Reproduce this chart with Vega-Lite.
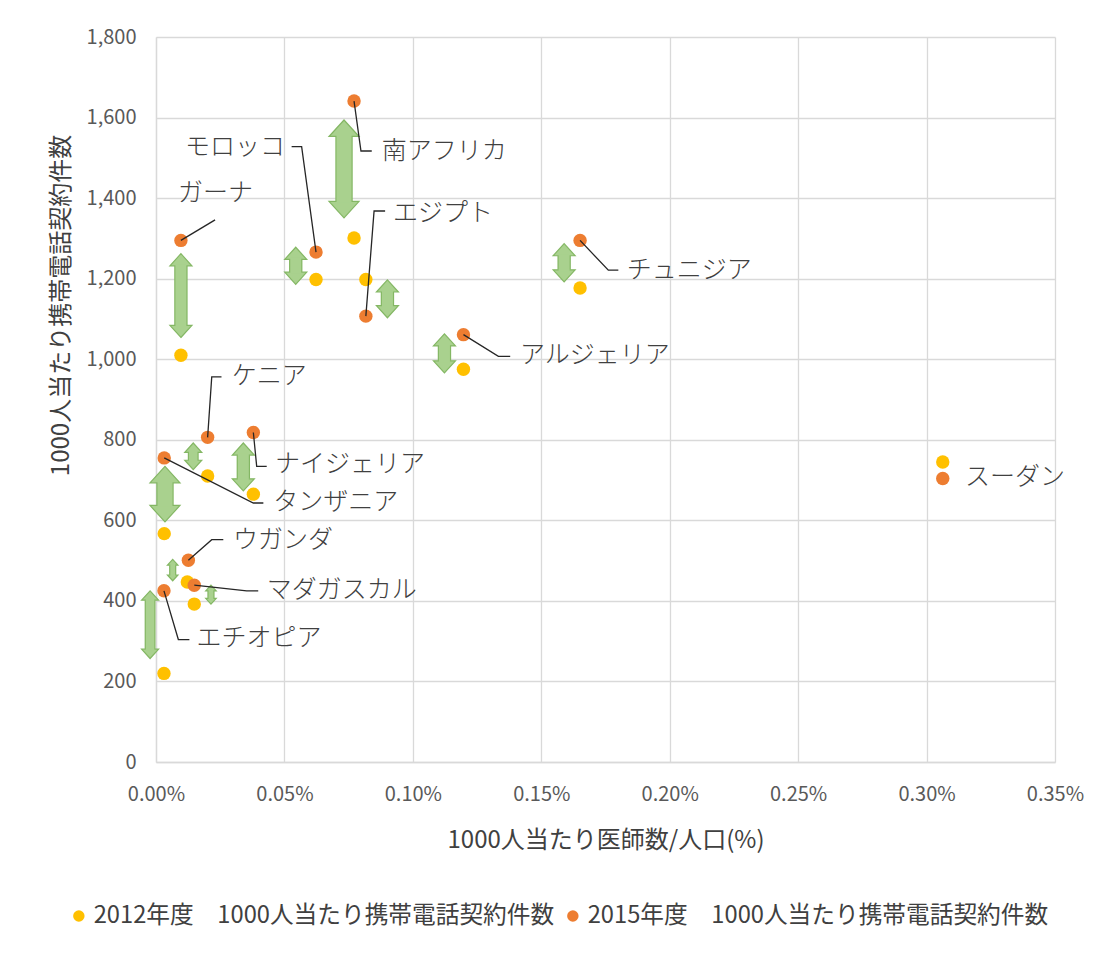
{
  "$schema": "https://vega.github.io/schema/vega-lite/v6.json",
  "width": 899,
  "height": 725,
  "autosize": "none",
  "padding": {"left": 156, "top": 37, "right": 50, "bottom": 191},
  "background": "white",
  "config": {
    "font": "Noto Sans CJK JP",
    "view": {"stroke": null},
    "axis": {
      "grid": true,
      "gridColor": "#d9d9d9",
      "gridWidth": 1.3,
      "domain": true,
      "domainColor": "#d9d9d9",
      "domainWidth": 1.3,
      "ticks": false,
      "labelFlush": false,
      "labelFontSize": 20,
      "labelColor": "#595959",
      "titleFontSize": 24,
      "titleFontWeight": "normal",
      "titleColor": "#404040"
    }
  },
  "datasets": {
    "points": [
      {"country": "ガーナ", "series": "2012年度　1000人当たり携帯電話契約件数", "doctors": 0.0097, "phones": 1010},
      {"country": "モロッコ", "series": "2012年度　1000人当たり携帯電話契約件数", "doctors": 0.0623, "phones": 1198},
      {"country": "南アフリカ", "series": "2012年度　1000人当たり携帯電話契約件数", "doctors": 0.0771, "phones": 1301},
      {"country": "エジプト", "series": "2012年度　1000人当たり携帯電話契約件数", "doctors": 0.0817, "phones": 1198},
      {"country": "アルジェリア", "series": "2012年度　1000人当たり携帯電話契約件数", "doctors": 0.1197, "phones": 975},
      {"country": "チュニジア", "series": "2012年度　1000人当たり携帯電話契約件数", "doctors": 0.1651, "phones": 1177},
      {"country": "スーダン", "series": "2012年度　1000人当たり携帯電話契約件数", "doctors": 0.3063, "phones": 745},
      {"country": "ケニア", "series": "2012年度　1000人当たり携帯電話契約件数", "doctors": 0.0201, "phones": 710},
      {"country": "ナイジェリア", "series": "2012年度　1000人当たり携帯電話契約件数", "doctors": 0.0379, "phones": 665},
      {"country": "タンザニア", "series": "2012年度　1000人当たり携帯電話契約件数", "doctors": 0.0032, "phones": 567},
      {"country": "ウガンダ", "series": "2012年度　1000人当たり携帯電話契約件数", "doctors": 0.0122, "phones": 447},
      {"country": "マダガスカル", "series": "2012年度　1000人当たり携帯電話契約件数", "doctors": 0.0149, "phones": 392},
      {"country": "エチオピア", "series": "2012年度　1000人当たり携帯電話契約件数", "doctors": 0.0031, "phones": 220},
      {"country": "ガーナ", "series": "2015年度　1000人当たり携帯電話契約件数", "doctors": 0.0097, "phones": 1295},
      {"country": "モロッコ", "series": "2015年度　1000人当たり携帯電話契約件数", "doctors": 0.0623, "phones": 1266},
      {"country": "南アフリカ", "series": "2015年度　1000人当たり携帯電話契約件数", "doctors": 0.0771, "phones": 1641},
      {"country": "エジプト", "series": "2015年度　1000人当たり携帯電話契約件数", "doctors": 0.0817, "phones": 1107},
      {"country": "アルジェリア", "series": "2015年度　1000人当たり携帯電話契約件数", "doctors": 0.1197, "phones": 1061},
      {"country": "チュニジア", "series": "2015年度　1000人当たり携帯電話契約件数", "doctors": 0.1651, "phones": 1295},
      {"country": "スーダン", "series": "2015年度　1000人当たり携帯電話契約件数", "doctors": 0.3063, "phones": 704},
      {"country": "ケニア", "series": "2015年度　1000人当たり携帯電話契約件数", "doctors": 0.0201, "phones": 806},
      {"country": "ナイジェリア", "series": "2015年度　1000人当たり携帯電話契約件数", "doctors": 0.0379, "phones": 818},
      {"country": "タンザニア", "series": "2015年度　1000人当たり携帯電話契約件数", "doctors": 0.0032, "phones": 755},
      {"country": "ウガンダ", "series": "2015年度　1000人当たり携帯電話契約件数", "doctors": 0.0126, "phones": 501},
      {"country": "マダガスカル", "series": "2015年度　1000人当たり携帯電話契約件数", "doctors": 0.0149, "phones": 439},
      {"country": "エチオピア", "series": "2015年度　1000人当たり携帯電話契約件数", "doctors": 0.0031, "phones": 425}
    ],
    "arrows": [
      {"country": "ガーナ", "doctors": 0.0097, "top": 1262, "bottom": 1054, "cls": "M"},
      {"country": "モロッコ", "doctors": 0.0544, "top": 1278, "bottom": 1186, "cls": "M"},
      {"country": "南アフリカ", "doctors": 0.0732, "top": 1594, "bottom": 1351, "cls": "L"},
      {"country": "エジプト", "doctors": 0.0901, "top": 1197, "bottom": 1103, "cls": "M"},
      {"country": "アルジェリア", "doctors": 0.1123, "top": 1063, "bottom": 966, "cls": "M"},
      {"country": "チュニジア", "doctors": 0.1589, "top": 1287, "bottom": 1192, "cls": "M"},
      {"country": "ケニア", "doctors": 0.0145, "top": 792, "bottom": 726, "cls": "S"},
      {"country": "ナイジェリア", "doctors": 0.034, "top": 792, "bottom": 673, "cls": "M"},
      {"country": "タンザニア", "doctors": 0.0035, "top": 734, "bottom": 596, "cls": "L"},
      {"country": "ウガンダ", "doctors": 0.0065, "top": 503, "bottom": 450, "cls": "XS"},
      {"country": "マダガスカル", "doctors": 0.0214, "top": 439, "bottom": 392, "cls": "XS"},
      {"country": "エチオピア", "doctors": -0.0023, "top": 425, "bottom": 257, "cls": "S"}
    ],
    "leaders": [
      {"country": "ガーナ", "k": 0, "doctors": 0.0097, "phones": 1295},
      {"country": "ガーナ", "k": 1, "doctors": 0.023, "phones": 1346},
      {"country": "モロッコ", "k": 0, "doctors": 0.0623, "phones": 1266},
      {"country": "モロッコ", "k": 1, "doctors": 0.0567, "phones": 1528},
      {"country": "モロッコ", "k": 2, "doctors": 0.0528, "phones": 1528},
      {"country": "南アフリカ", "k": 0, "doctors": 0.0771, "phones": 1641},
      {"country": "南アフリカ", "k": 1, "doctors": 0.0798, "phones": 1517},
      {"country": "南アフリカ", "k": 2, "doctors": 0.084, "phones": 1517},
      {"country": "エジプト", "k": 0, "doctors": 0.0817, "phones": 1107},
      {"country": "エジプト", "k": 1, "doctors": 0.0849, "phones": 1368},
      {"country": "エジプト", "k": 2, "doctors": 0.0892, "phones": 1368},
      {"country": "アルジェリア", "k": 0, "doctors": 0.1197, "phones": 1061},
      {"country": "アルジェリア", "k": 1, "doctors": 0.1333, "phones": 1007},
      {"country": "アルジェリア", "k": 2, "doctors": 0.1379, "phones": 1007},
      {"country": "チュニジア", "k": 0, "doctors": 0.1651, "phones": 1295},
      {"country": "チュニジア", "k": 1, "doctors": 0.1761, "phones": 1221},
      {"country": "チュニジア", "k": 2, "doctors": 0.18, "phones": 1221},
      {"country": "ケニア", "k": 0, "doctors": 0.0201, "phones": 806},
      {"country": "ケニア", "k": 1, "doctors": 0.0217, "phones": 956},
      {"country": "ケニア", "k": 2, "doctors": 0.0255, "phones": 956},
      {"country": "ナイジェリア", "k": 0, "doctors": 0.0379, "phones": 818},
      {"country": "ナイジェリア", "k": 1, "doctors": 0.0392, "phones": 734},
      {"country": "ナイジェリア", "k": 2, "doctors": 0.0431, "phones": 734},
      {"country": "タンザニア", "k": 0, "doctors": 0.0032, "phones": 755},
      {"country": "タンザニア", "k": 1, "doctors": 0.0379, "phones": 643},
      {"country": "タンザニア", "k": 2, "doctors": 0.0418, "phones": 643},
      {"country": "ウガンダ", "k": 0, "doctors": 0.0126, "phones": 501},
      {"country": "ウガンダ", "k": 1, "doctors": 0.0217, "phones": 552},
      {"country": "ウガンダ", "k": 2, "doctors": 0.0262, "phones": 552},
      {"country": "マダガスカル", "k": 0, "doctors": 0.0149, "phones": 439},
      {"country": "マダガスカル", "k": 1, "doctors": 0.0353, "phones": 425},
      {"country": "マダガスカル", "k": 2, "doctors": 0.0398, "phones": 425},
      {"country": "エチオピア", "k": 0, "doctors": 0.0031, "phones": 425},
      {"country": "エチオピア", "k": 1, "doctors": 0.0087, "phones": 304},
      {"country": "エチオピア", "k": 2, "doctors": 0.013, "phones": 304}
    ],
    "labels": [
      {"country": "ガーナ", "doctors": 0.0086, "phones": 1413},
      {"country": "モロッコ", "doctors": 0.0113, "phones": 1528},
      {"country": "南アフリカ", "doctors": 0.0879, "phones": 1516},
      {"country": "エジプト", "doctors": 0.0923, "phones": 1364},
      {"country": "アルジェリア", "doctors": 0.1417, "phones": 1010},
      {"country": "チュニジア", "doctors": 0.1833, "phones": 1221},
      {"country": "スーダン", "doctors": 0.315, "phones": 707},
      {"country": "ケニア", "doctors": 0.0295, "phones": 958},
      {"country": "ナイジェリア", "doctors": 0.0463, "phones": 739},
      {"country": "タンザニア", "doctors": 0.0456, "phones": 645},
      {"country": "ウガンダ", "doctors": 0.03, "phones": 551},
      {"country": "マダガスカル", "doctors": 0.0431, "phones": 427},
      {"country": "エチオピア", "doctors": 0.0158, "phones": 308}
    ]
  },
  "encoding": {
    "x": {
      "field": "doctors",
      "type": "quantitative",
      "title": "1000人当たり医師数/人口(%)",
      "scale": {"domain": [0, 0.35], "nice": false, "zero": false},
      "axis": {
        "values": [0, 0.05, 0.1, 0.15, 0.2, 0.25, 0.3, 0.35],
        "labelExpr": "format(datum.value, '.2f') + '%'",
        "labelPadding": 22,
        "titlePadding": 24
      }
    },
    "y": {
      "field": "phones",
      "type": "quantitative",
      "title": "1000人当たり携帯電話契約件数",
      "scale": {"domain": [0, 1800], "nice": false},
      "axis": {
        "values": [0, 200, 400, 600, 800, 1000, 1200, 1400, 1600, 1800],
        "labelExpr": "format(datum.value, ',.0f')",
        "labelPadding": 20,
        "titlePadding": 13,
        "titleY": 268
      }
    }
  },
  "layer": [
    {
      "data": {"name": "points"},
      "mark": {"type": "circle", "size": 180, "opacity": 1},
      "encoding": {
        "color": {
          "field": "series",
          "type": "nominal",
          "scale": {
            "domain": ["2012年度　1000人当たり携帯電話契約件数", "2015年度　1000人当たり携帯電話契約件数"],
            "range": ["#FFC000", "#ED7D31"]
          },
          "legend": {
            "title": null,
            "orient": "none",
            "direction": "horizontal",
            "legendX": -89,
            "legendY": 867,
            "symbolType": "circle",
            "symbolSize": 130,
            "labelFontSize": 23.7,
            "labelColor": "#404040",
            "labelOffset": 3,
            "columnPadding": 6,
            "labelLimit": 600
          }
        }
      }
    },
    {
      "data": {"name": "arrows"},
      "mark": {
        "type": "rule",
        "color": "#84b764",
        "strokeCap": "butt",
        "strokeWidth": {"expr": "datum.cls === 'L' ? 17.4 : datum.cls === 'M' ? 13.4 : datum.cls === 'S' ? 10.9 : 7.2"},
        "yOffset": {"expr": "datum.cls === 'L' ? 16.5 : datum.cls === 'M' ? 12.1 : datum.cls === 'S' ? 9.4 : 5.8"},
        "y2Offset": {"expr": "datum.cls === 'L' ? -16.5 : datum.cls === 'M' ? -12.1 : datum.cls === 'S' ? -9.4 : -5.8"}
      },
      "encoding": {
        "y": {"field": "top", "type": "quantitative", "title": "1000人当たり携帯電話契約件数"},
        "y2": {"field": "bottom"}
      }
    },
    {
      "data": {"name": "arrows"},
      "transform": [{"fold": ["top", "bottom"], "as": ["end", "phones"]}],
      "mark": {
        "type": "point",
        "filled": true,
        "opacity": 1,
        "fill": "#a9d18e",
        "stroke": "#84b764",
        "strokeWidth": 1.2,
        "size": {"expr": "datum.cls === 'L' ? 900 : datum.cls === 'M' ? 484 : datum.cls === 'S' ? 289 : 110"}
      },
      "encoding": {
        "shape": {
          "field": "end",
          "type": "nominal",
          "scale": {"domain": ["top", "bottom"], "range": ["M0,0L1,1.1L-1,1.1Z", "M0,0L1,-1.1L-1,-1.1Z"]},
          "legend": null
        }
      }
    },
    {
      "data": {"name": "arrows"},
      "mark": {
        "type": "rule",
        "color": "#a9d18e",
        "strokeCap": "butt",
        "strokeWidth": {"expr": "datum.cls === 'L' ? 15 : datum.cls === 'M' ? 11 : datum.cls === 'S' ? 8.5 : 4.8"},
        "yOffset": {"expr": "datum.cls === 'L' ? 15 : datum.cls === 'M' ? 10.6 : datum.cls === 'S' ? 8 : 4.6"},
        "y2Offset": {"expr": "datum.cls === 'L' ? -15 : datum.cls === 'M' ? -10.6 : datum.cls === 'S' ? -8 : -4.6"}
      },
      "encoding": {
        "y": {"field": "top", "type": "quantitative", "title": "1000人当たり携帯電話契約件数"},
        "y2": {"field": "bottom"}
      }
    },
    {
      "data": {"name": "leaders"},
      "mark": {"type": "line", "color": "#262626", "strokeWidth": 1.3},
      "encoding": {
        "detail": {"field": "country", "type": "nominal"},
        "order": {"field": "k", "type": "quantitative"}
      }
    },
    {
      "data": {"name": "labels"},
      "mark": {
        "type": "text",
        "align": "left",
        "baseline": "middle",
        "fontSize": 25,
        "fontWeight": 300,
        "color": "#404040"
      },
      "encoding": {
        "text": {"field": "country", "type": "nominal"}
      }
    }
  ]
}
